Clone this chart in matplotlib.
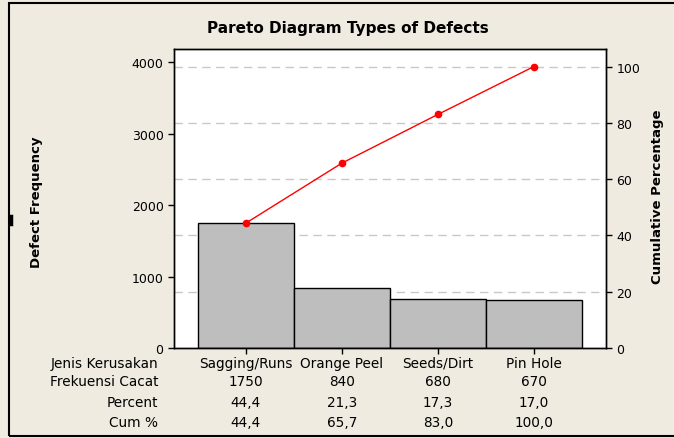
import matplotlib
matplotlib.use('Agg')
import matplotlib.pyplot as plt
import matplotlib.transforms as mtransforms
from matplotlib.patches import Rectangle
from matplotlib.lines import Line2D

# Data
categories = ['Sagging/Runs', 'Orange Peel', 'Seeds/Dirt', 'Pin Hole']
counts = [1750, 840, 680, 670]
percent = [44.4, 21.3, 17.3, 17.0]
cum_percent = [44.4, 65.7, 83.0, 100.0]
left_ticks = [0, 1000, 2000, 3000, 4000]
right_ticks = [0, 20, 40, 60, 80, 100]
row_labels = ['Jenis Kerusakan', 'Frekuensi Cacat', 'Percent', 'Cum %']

total = sum(counts)
bg = '#efebe1'
W, H = 674, 439

fig = plt.figure(figsize=(6.74, 4.39), dpi=100)
fig.patch.set_facecolor(bg)

# plot area in pixel coords: x 174..606, y 50..349
ax = fig.add_axes([174 / W, 1 - 349 / H, 432 / W, 299 / H])
ax.set_facecolor('white')
x = list(range(len(categories)))

ymax = 4185
ax.set_xlim(-0.75, len(categories) - 0.25)
ax.set_ylim(0, ymax)

# dashed grid at the cumulative-percentage ticks (drawn behind the bars)
for p in right_ticks[1:]:
    ax.axhline(p / 100 * total, color='#c8c8c8', linestyle=(0, (6, 4)), linewidth=1, zorder=1)

ax.bar(x, counts, width=1.0, color='#bebebe', edgecolor='black', linewidth=1, zorder=2)

ax.set_yticks(left_ticks)
ax.set_xticks(x)
ax.set_xticklabels([])
ax.tick_params(axis='both', direction='out', length=4, width=1, labelsize=9, colors='black')
for s in ax.spines.values():
    s.set_linewidth(1)

ax2 = ax.twinx()
ax2.set_ylim(0, ymax / total * 100)
ax2.set_yticks(right_ticks)
ax2.tick_params(axis='y', direction='out', length=4, width=1, labelsize=9)
ax2.plot(x, cum_percent, color='#ff0000', linewidth=1, marker='o', markersize=4.5, zorder=3)
for s in ax2.spines.values():
    s.set_linewidth(1)

# title and axis labels
fig.text(348 / W, 1 - 28 / H, 'Pareto Diagram Types of Defects', ha='center', va='center',
         fontsize=11, fontweight='bold')
fig.text(37 / W, 1 - 202 / H, 'Defect Frequency', rotation=90, ha='center', va='center',
         fontsize=9.5, fontweight='bold')
fig.text(658 / W, 1 - 197 / H, 'Cumulative Percentage', rotation=90, ha='center', va='center',
         fontsize=9.5, fontweight='bold')

# table under the chart
row_y = [364, 382, 403, 423]
fmt = lambda v: ('%.1f' % v).replace('.', ',')
rows = [categories, [str(c) for c in counts], [fmt(v) for v in percent], [fmt(v) for v in cum_percent]]
trans = mtransforms.blended_transform_factory(ax.transData, fig.transFigure)
for label, yy, vals in zip(row_labels, row_y, rows):
    fig.text(158 / W, 1 - yy / H, label, ha='right', va='center', fontsize=9.8)
    for xi, v in zip(x, vals):
        ax.text(xi, 1 - yy / H, v, transform=trans, ha='center', va='center', fontsize=9.8,
                clip_on=False)

# outer frame (right edge falls outside the picture)
fig.patches.append(Rectangle((9 / W, 1 - 437 / H), 700 / W, 433 / H, transform=fig.transFigure,
                             fill=False, edgecolor='black', linewidth=1.5))
fig.lines.append(Line2D([11 / W, 11 / W], [1 - 217 / H, 1 - 225 / H], transform=fig.transFigure,
                        color='black', linewidth=2.5))

fig.savefig('out.png', dpi=100, facecolor=bg)
